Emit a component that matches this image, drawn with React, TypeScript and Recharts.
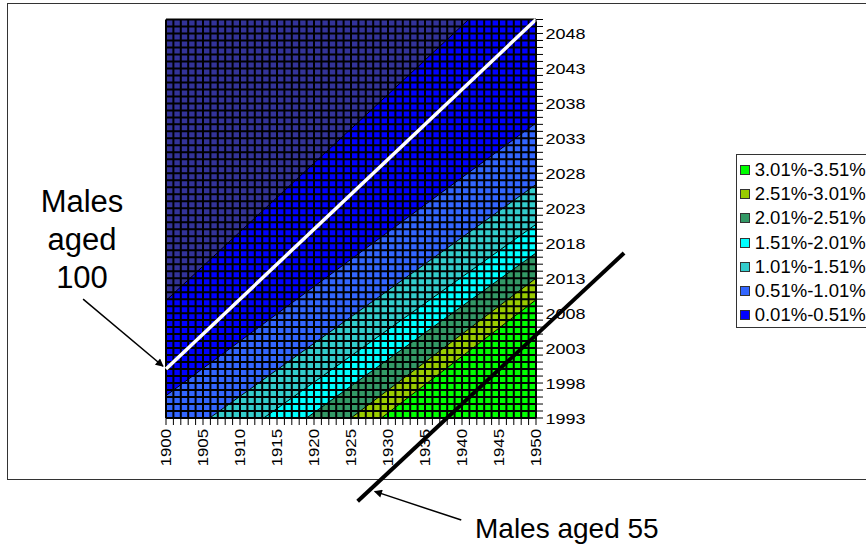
import React from "react";
import { Area, CartesianGrid, ComposedChart, Legend, Line, ReferenceLine, XAxis, YAxis } from "recharts";

const FONT = '"Liberation Sans", Arial, sans-serif';

// labelled ticks (every year gets a tick mark and a grid line)
const xLabelYears = [1900, 1905, 1910, 1915, 1920, 1925, 1930, 1935, 1940, 1945, 1950];
const yLabelYears = [1993, 1998, 2003, 2008, 2013, 2018, 2023, 2028, 2033, 2038, 2043, 2048];
const birthYears = Array.from({ length: 51 }, (_, i) => 1900 + i);
const calendarYears = Array.from({ length: 58 }, (_, i) => 1993 + i);

// contour boundaries: x = year of birth, y = calendar year
const belowBand = [{ x: 1900, y: 2050 }, { x: 1950, y: 2050 }];
const band001 = [{ x: 1900, y: 2009.8 }, { x: 1940.9, y: 2050 }, { x: 1950, y: 2050 }];
const band051 = [{ x: 1900, y: 1996.2 }, { x: 1950, y: 2035.2 }];
const band101 = [{ x: 1905.9, y: 1993 }, { x: 1950, y: 2026.4 }];
const band151 = [{ x: 1913.2, y: 1993 }, { x: 1950, y: 2020.7 }];
const band201 = [{ x: 1919, y: 1993 }, { x: 1950, y: 2016.6 }];
const band251 = [{ x: 1925, y: 1993 }, { x: 1950, y: 2013 }];
const band301 = [{ x: 1929.1, y: 1993 }, { x: 1950, y: 2009.9 }];

// annotations
const aged100 = [{ x: 1900, y: 2000 }, { x: 1950, y: 2050 }];
const aged55 = [{ x: 1925.9, y: 1981.1 }, { x: 1961.9, y: 2016.6 }];
const arrow100 = [{ x: 1888.8, y: 2010 }, { x: 1899.6, y: 2000.4 }];
const arrow55 = [{ x: 1939.9, y: 1978.4 }, { x: 1928.2, y: 1982.5 }];

const legendLabels = ["3.01%-3.51%", "2.51%-3.01%", "2.01%-2.51%", "1.51%-2.01%", "1.01%-1.51%", "0.51%-1.01%", "0.01%-0.51%"];
const legendColors = ["#00FF00", "#99CC00", "#339966", "#00FFFF", "#33CCCC", "#3366FF", "#0000FF"];

const bands = [
    { name: "below 0.01%", color: "#333399", data: belowBand, edge: "none" },
    { name: "0.01%-0.51%", color: "#0000FF", data: band001, edge: "#000" },
    { name: "0.51%-1.01%", color: "#3366FF", data: band051, edge: "#000" },
    { name: "1.01%-1.51%", color: "#33CCCC", data: band101, edge: "#000" },
    { name: "1.51%-2.01%", color: "#00FFFF", data: band151, edge: "#000" },
    { name: "2.01%-2.51%", color: "#339966", data: band201, edge: "#000" },
    { name: "2.51%-3.01%", color: "#99CC00", data: band251, edge: "#000" },
    { name: "3.01%-3.51%", color: "#00FF00", data: band301, edge: "#000" },
];

const XTick = (props: any) => {
    const { x, y, payload } = props;
    if (!xLabelYears.includes(payload.value)) return <g />;
    return (
        <g transform={`translate(${x},${y}) rotate(-90) scale(1.12,1)`}>
            <text x={0} y={0} dy="0.36em" textAnchor="end" fontSize={15} fontFamily={FONT} fill="#000">
                {payload.value}
            </text>
        </g>
    );
};

const YTick = (props: any) => {
    const { x, y, payload } = props;
    if (!yLabelYears.includes(payload.value)) return <g />;
    return (
        <g transform={`translate(${x},${y}) scale(1.2,1)`}>
            <text x={0} y={0} dy="0.4em" textAnchor="start" fontSize={15} fontFamily={FONT} fill="#000">
                {payload.value}
            </text>
        </g>
    );
};

const LegendBox = () => (
    <div
        style={{
            border: "1.5px solid #333",
            background: "#fff",
            width: 160,
            height: 174,
            boxSizing: "border-box",
            padding: "2.5px 0 0 3.5px",
            fontFamily: FONT,
            fontSize: 18.5,
            color: "#000",
        }}
    >
        {legendLabels.map((label, i) => (
            <div key={label} style={{ display: "flex", alignItems: "center", height: 24.3, whiteSpace: "nowrap" }}>
                <span
                    style={{
                        display: "inline-block",
                        width: 10,
                        height: 10,
                        boxSizing: "border-box",
                        border: "1px solid #333",
                        background: legendColors[i],
                        marginRight: 4.5,
                    }}
                />
                {label}
            </div>
        ))}
    </div>
);

const arrowShape = (p: any) => (
    <line x1={p.x1} y1={p.y1} x2={p.x2} y2={p.y2} stroke="#000" strokeWidth={1.5} markerEnd="url(#arrowHead)" />
);

export default function App() {
    return (
        <div style={{ position: "absolute", left: 0, top: 0, width: 866, height: 549, overflow: "hidden", background: "#fff" }}>
            <svg width={0} height={0} style={{ position: "absolute" }}>
                <defs>
                    <marker
                        id="arrowHead"
                        viewBox="0 0 10 10"
                        refX="9"
                        refY="5"
                        markerWidth="11"
                        markerHeight="8"
                        markerUnits="userSpaceOnUse"
                        orient="auto"
                    >
                        <path d="M0,0 L10,5 L0,10 z" fill="#000" />
                    </marker>
                </defs>
            </svg>
            <div
                style={{
                    position: "absolute",
                    left: 7,
                    top: 3,
                    width: 900,
                    height: 477,
                    border: "1.5px solid #333",
                    boxSizing: "border-box",
                }}
            />
            <div style={{ position: "absolute", left: 0, top: 0 }}>
                <ComposedChart width={866} height={549} margin={{ top: 19.5, right: 270, bottom: 81, left: 166 }}>
                    <XAxis
                        dataKey="x"
                        type="number"
                        domain={[1900, 1950]}
                        ticks={birthYears}
                        interval={0}
                        tick={<XTick />}
                        tickSize={7}
                        tickMargin={4}
                        height={50}
                        stroke="#000"
                    />
                    <YAxis
                        dataKey="y"
                        type="number"
                        orientation="right"
                        domain={[1993, 2050]}
                        ticks={calendarYears}
                        interval={0}
                        tick={<YTick />}
                        tickSize={7}
                        tickMargin={2.5}
                        width={60}
                        stroke="#000"
                    />
                    {bands.map((b) => (
                        <Area
                            key={b.name}
                            data={b.data}
                            dataKey="y"
                            name={b.name}
                            type="linear"
                            fill={b.color}
                            fillOpacity={1}
                            stroke={b.edge}
                            strokeWidth={1}
                            dot={false}
                            activeDot={false}
                            isAnimationActive={false}
                        />
                    ))}
                    <CartesianGrid stroke="#000" strokeWidth={2} zIndex={150} />
                    <Line
                        data={aged100}
                        dataKey="y"
                        name="Males aged 100"
                        type="linear"
                        stroke="#fff"
                        strokeWidth={3.5}
                        dot={false}
                        activeDot={false}
                        isAnimationActive={false}
                    />
                    <ReferenceLine segment={aged55} stroke="#000" strokeWidth={4} ifOverflow="visible" />
                    <ReferenceLine segment={arrow100} ifOverflow="visible" shape={arrowShape} />
                    <ReferenceLine segment={arrow55} ifOverflow="visible" shape={arrowShape} />
                    <Legend
                        layout="vertical"
                        align="center"
                        verticalAlign="middle"
                        content={<LegendBox />}
                        wrapperStyle={{ left: 735.7, top: 154, width: 160 }}
                    />
                </ComposedChart>
            </div>
            <div
                style={{
                    position: "absolute",
                    left: 22,
                    top: 183,
                    width: 120,
                    textAlign: "center",
                    fontFamily: FONT,
                    fontSize: 31,
                    lineHeight: "38px",
                    color: "#000",
                }}
            >
                Males
                <br />
                aged
                <br />
                100
            </div>
            <div
                style={{
                    position: "absolute",
                    left: 475,
                    top: 515,
                    fontFamily: FONT,
                    fontSize: 28,
                    lineHeight: "28px",
                    whiteSpace: "nowrap",
                    color: "#000",
                }}
            >
                Males aged 55
            </div>
        </div>
    );
}
